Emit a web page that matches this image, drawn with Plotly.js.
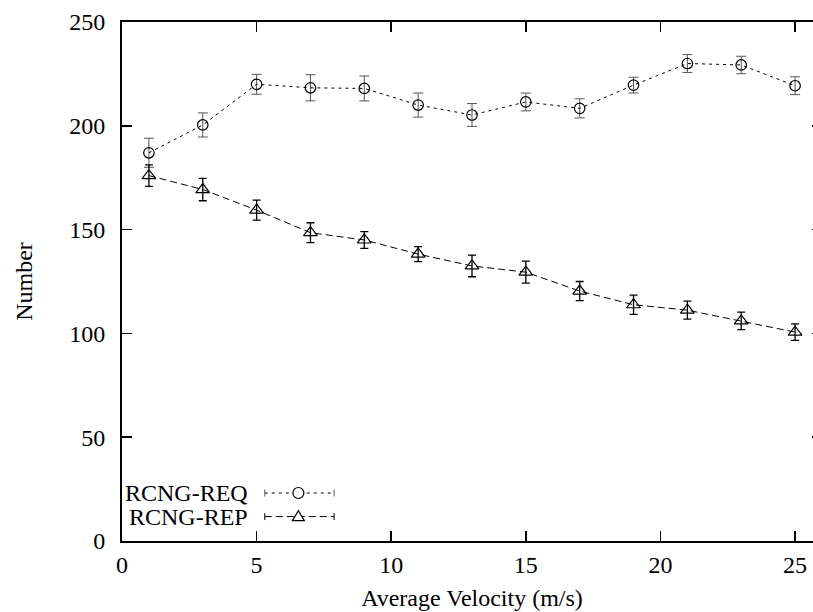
<!DOCTYPE html>
<html>
<head>
<meta charset="utf-8">
<script src="https://cdn.plot.ly/plotly-3.0.1.min.js"></script>
<style>
html, body { margin: 0; padding: 0; overflow: hidden; background: #fff; }
#chart { width: 832px; height: 612px; }
</style>
</head>
<body>
<div id="chart"></div>
<script>
// ---- data ----
var velocity = [1, 3, 5, 7, 9, 11, 13, 15, 17, 19, 21, 23, 25];
var reqValues = [187, 200.4, 220, 218.3, 218, 210, 205.2, 211.5, 208.4, 219.6, 230, 229.3, 219.3];
var reqErrors = [7, 5.8, 4.8, 6.3, 6, 5.8, 5.5, 4.3, 4.6, 3.8, 4.3, 4.2, 4.3];
var repValues = [176, 169.3, 159.4, 148.5, 145, 138.2, 132.5, 129.5, 120.4, 113.8, 111.2, 106, 100.6];
var repErrors = [5.2, 5.4, 4.8, 4.8, 4, 3.6, 5.2, 5.3, 4.6, 4.6, 4.3, 4.2, 4];
var seriesNames = ['RCNG-REQ', 'RCNG-REP'];
var xTickValues = [0, 5, 10, 15, 20, 25];
var yTickValues = [0, 50, 100, 150, 200, 250];
var xTitle = 'Average Velocity (m/s)';
var yTitle = 'Number';

var FONT = 'Liberation Serif, Times New Roman, serif';
var FS = 24;

var traces = [
  {
    x: velocity, y: reqValues, name: seriesNames[0], type: 'scatter', mode: 'lines+markers',
    line: { color: '#000', width: 1, dash: '3px,4px' },
    marker: { symbol: 'circle-open', size: 10.5, color: '#000', line: { width: 1.2, color: '#000' } },
    error_y: { type: 'data', array: reqErrors, visible: true, color: '#555', thickness: 1, width: 5 },
    showlegend: false
  },
  {
    x: velocity, y: repValues, name: seriesNames[1], type: 'scatter', mode: 'lines+markers',
    line: { color: '#000', width: 1, dash: '7px,4px' },
    marker: { symbol: 'triangle-up-open', size: 12, color: '#000', line: { width: 1.2, color: '#000' } },
    error_y: { type: 'data', array: repErrors, visible: true, color: '#000', thickness: 1.3, width: 4 },
    showlegend: false
  }
];

// legend drawn gnuplot-style (text on the left, sample on the right)
var legY = [0.0925, 0.047];
var legTextX = 0.183;
var sampX0 = 0.204, sampX1 = 0.303, sampMid = 0.252;
var shapes = [];
var annotations = [];
var dashes = ['3px,4px', '7px,4px'];
for (var i = 0; i < 2; i++) {
  annotations.push({
    xref: 'paper', yref: 'paper', x: legTextX, y: legY[i], xanchor: 'right', yanchor: 'middle',
    text: seriesNames[i], showarrow: false, font: { family: FONT, size: FS, color: '#000' }
  });
  shapes.push({ type: 'line', xref: 'paper', yref: 'paper', x0: sampX0, x1: sampX1, y0: legY[i], y1: legY[i],
    line: { color: '#000', width: 1, dash: dashes[i] } });
  [sampX0, sampX1].forEach(function (xx) {
    shapes.push({ type: 'line', xref: 'paper', yref: 'paper', xsizemode: 'pixel', ysizemode: 'pixel',
      xanchor: xx, yanchor: legY[i], x0: 0, x1: 0, y0: -3.5, y1: 3.5,
      line: { color: i === 0 ? '#555' : '#000', width: 1 } });
  });
}
shapes.push({ type: 'circle', xref: 'paper', yref: 'paper', xsizemode: 'pixel', ysizemode: 'pixel',
  xanchor: sampMid, yanchor: legY[0], x0: -5.5, x1: 5.5, y0: -5.5, y1: 5.5,
  fillcolor: '#fff', line: { color: '#000', width: 1.2 } });
shapes.push({ type: 'path', xref: 'paper', yref: 'paper', xsizemode: 'pixel', ysizemode: 'pixel',
  xanchor: sampMid, yanchor: legY[1], path: 'M -6 -4 L 6 -4 L 0 6 Z',
  fillcolor: '#fff', line: { color: '#000', width: 1.2 } });

var layout = {
  width: 832, height: 612,
  margin: { l: 122, r: 10, t: 22, b: 71 },
  paper_bgcolor: '#fff', plot_bgcolor: '#fff',
  font: { family: FONT, size: FS, color: '#000' },
  showlegend: false,
  xaxis: {
    range: [0, 26], tickvals: xTickValues, ticktext: xTickValues.map(String),
    showgrid: false, zeroline: false, showline: true, linecolor: '#000', linewidth: 2,
    mirror: 'ticks', ticks: 'inside', ticklen: 10, tickwidth: 1.5, tickcolor: '#000',
    tickfont: { family: FONT, size: FS, color: '#000' }, ticklabelstandoff: 1,
    title: { text: xTitle, font: { family: FONT, size: FS, color: '#000' }, standoff: 12 }
  },
  yaxis: {
    range: [0, 250], tickvals: yTickValues, ticktext: yTickValues.map(String),
    showgrid: false, zeroline: false, showline: true, linecolor: '#000', linewidth: 2,
    mirror: 'ticks', ticks: 'inside', ticklen: 10, tickwidth: 1.5, tickcolor: '#000',
    tickfont: { family: FONT, size: FS, color: '#000' }, ticklabelstandoff: 10,
    title: { text: yTitle, font: { family: FONT, size: FS, color: '#000' }, standoff: 30 }
  },
  shapes: shapes,
  annotations: annotations
};

Plotly.newPlot('chart', traces, layout, { displayModeBar: false, staticPlot: true });
</script>
</body>
</html>
